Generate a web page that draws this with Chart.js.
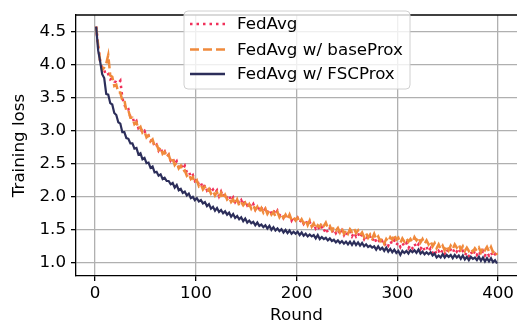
<!DOCTYPE html>
<html><head><meta charset="utf-8">
<script src="https://cdn.jsdelivr.net/npm/chart.js@4"></script>
<style>html,body{margin:0;padding:0;background:#fff;overflow:hidden}canvas{display:block}</style>
</head><body>
<canvas id="c" width="517" height="331"></canvas>
<script>
// Rounds sampled every 2 rounds (1,3,...,399)
const rounds = Array.from({length: 200}, (_, i) => 1 + 2 * i);
const xTicks = [0, 100, 200, 300, 400];
const yTicks = [1.0, 1.5, 2.0, 2.5, 3.0, 3.5, 4.0, 4.5];
const seriesNames = ["FedAvg", "FedAvg w/ baseProx", "FedAvg w/ FSCProx"];

const fedAvg = [
4.58,4.28,4.06,3.94,3.92,3.84,3.86,3.78,3.80,3.75,
3.74,3.72,3.76,3.50,3.40,3.32,3.33,3.21,3.21,3.12,
3.15,3.04,3.06,2.97,3.00,2.92,2.93,2.85,2.87,2.76,
2.79,2.70,2.75,2.66,2.69,2.61,2.64,2.55,2.59,2.50,
2.54,2.45,2.50,2.42,2.47,2.37,2.39,2.30,2.33,2.24,
2.27,2.18,2.21,2.13,2.18,2.10,2.15,2.07,2.11,2.06,
2.10,2.01,2.08,2.00,2.05,1.98,2.02,1.94,1.99,1.92,
1.97,1.90,1.95,1.88,1.94,1.87,1.91,1.84,1.89,1.81,
1.87,1.80,1.84,1.77,1.82,1.76,1.81,1.75,1.80,1.73,
1.79,1.72,1.75,1.68,1.73,1.66,1.71,1.64,1.70,1.63,
1.68,1.61,1.66,1.59,1.64,1.58,1.62,1.54,1.59,1.52,
1.56,1.49,1.54,1.47,1.53,1.46,1.53,1.46,1.51,1.45,
1.50,1.43,1.49,1.42,1.48,1.41,1.47,1.40,1.46,1.40,
1.45,1.38,1.43,1.36,1.42,1.35,1.40,1.33,1.39,1.32,
1.36,1.29,1.33,1.26,1.31,1.26,1.33,1.28,1.34,1.27,
1.31,1.24,1.30,1.25,1.30,1.22,1.27,1.22,1.29,1.23,
1.28,1.21,1.26,1.19,1.24,1.17,1.22,1.15,1.20,1.13,
1.18,1.13,1.20,1.14,1.21,1.15,1.20,1.15,1.22,1.17,
1.22,1.14,1.18,1.11,1.16,1.10,1.17,1.11,1.18,1.12,
1.18,1.11,1.18,1.11,1.16,1.11,1.16,1.09,1.13,1.06
];
const baseProx = [
4.58,4.30,4.05,3.92,3.96,4.02,4.15,3.84,3.82,3.68,
3.70,3.58,3.58,3.46,3.47,3.30,3.31,3.20,3.20,3.10,
3.13,3.03,3.06,2.97,2.99,2.90,2.93,2.84,2.87,2.77,
2.80,2.71,2.75,2.65,2.68,2.60,2.64,2.54,2.58,2.48,
2.52,2.43,2.47,2.38,2.40,2.32,2.35,2.27,2.30,2.21,
2.25,2.16,2.19,2.11,2.15,2.08,2.12,2.05,2.09,2.02,
2.07,1.99,2.06,1.97,2.03,1.96,1.99,1.92,1.96,1.89,
1.96,1.87,1.92,1.87,1.91,1.84,1.89,1.82,1.87,1.80,
1.85,1.78,1.83,1.76,1.82,1.74,1.79,1.73,1.77,1.70,
1.77,1.69,1.74,1.68,1.73,1.66,1.73,1.65,1.69,1.64,
1.68,1.61,1.66,1.60,1.65,1.57,1.64,1.55,1.60,1.52,
1.57,1.54,1.61,1.56,1.61,1.53,1.56,1.49,1.54,1.49,
1.53,1.46,1.52,1.44,1.49,1.44,1.51,1.47,1.52,1.45,
1.49,1.42,1.46,1.39,1.45,1.38,1.43,1.37,1.44,1.36,
1.40,1.33,1.37,1.29,1.36,1.32,1.39,1.35,1.43,1.35,
1.38,1.30,1.37,1.32,1.37,1.32,1.36,1.31,1.39,1.34,
1.39,1.31,1.36,1.29,1.34,1.28,1.33,1.25,1.30,1.22,
1.28,1.21,1.26,1.19,1.26,1.19,1.26,1.21,1.28,1.23,
1.28,1.20,1.25,1.18,1.23,1.18,1.22,1.17,1.22,1.18,
1.23,1.16,1.23,1.19,1.24,1.17,1.24,1.16,1.19,1.12
];
const fscProx = [
4.58,4.22,4.05,3.86,3.80,3.56,3.55,3.42,3.40,3.27,
3.24,3.13,3.11,2.98,2.98,2.89,2.88,2.81,2.81,2.73,
2.74,2.64,2.66,2.57,2.59,2.51,2.52,2.44,2.46,2.37,
2.38,2.32,2.34,2.27,2.29,2.24,2.24,2.19,2.21,2.14,
2.18,2.10,2.12,2.06,2.08,2.02,2.05,1.98,2.00,1.95,
1.98,1.93,1.95,1.90,1.92,1.86,1.89,1.82,1.85,1.79,
1.83,1.77,1.80,1.75,1.78,1.73,1.76,1.70,1.74,1.68,
1.71,1.66,1.69,1.63,1.67,1.61,1.64,1.60,1.62,1.57,
1.61,1.56,1.58,1.54,1.57,1.52,1.56,1.50,1.54,1.49,
1.52,1.48,1.51,1.46,1.50,1.45,1.49,1.44,1.47,1.44,
1.47,1.42,1.46,1.41,1.44,1.40,1.43,1.40,1.42,1.37,
1.42,1.36,1.39,1.36,1.38,1.34,1.37,1.33,1.35,1.31,
1.34,1.30,1.33,1.29,1.32,1.28,1.32,1.27,1.32,1.27,
1.31,1.26,1.30,1.25,1.28,1.24,1.26,1.23,1.25,1.20,
1.25,1.20,1.23,1.18,1.23,1.17,1.21,1.16,1.20,1.15,
1.18,1.12,1.18,1.15,1.18,1.14,1.19,1.16,1.19,1.15,
1.20,1.14,1.17,1.13,1.16,1.13,1.16,1.11,1.14,1.08,
1.11,1.08,1.13,1.08,1.12,1.09,1.12,1.07,1.12,1.08,
1.11,1.06,1.11,1.05,1.09,1.04,1.09,1.06,1.08,1.04,
1.09,1.03,1.08,1.02,1.07,1.02,1.07,1.01,1.04,0.99
];

const FONT = "'DejaVu Sans', sans-serif";
const FS = 16.7;
const toXY = vals => rounds.map((r, i) => ({x: r, y: vals[i]}));

const datasets = [
  {label: seriesNames[0], data: toXY(fedAvg), borderColor: '#f0305a', borderWidth: 2.5, borderDash: [2.5, 4], order: 3},
  {label: seriesNames[1], data: toXY(baseProx), borderColor: '#f08a3c', borderWidth: 2.5, borderDash: [9, 4], order: 2},
  {label: seriesNames[2], data: toXY(fscProx), borderColor: '#2c2e5a', borderWidth: 2.2, borderDash: [], order: 1}
];

const framePlugin = {
  id: 'frame',
  afterDatasetsDraw(chart) {
    const {ctx, chartArea: a} = chart;
    ctx.save();
    ctx.strokeStyle = '#000';
    ctx.lineWidth = 1.3;
    ctx.beginPath();
    ctx.moveTo(a.left, a.top); ctx.lineTo(a.right, a.top);
    ctx.stroke();
    ctx.restore();
  },
  afterDraw(chart) {
    const ctx = chart.ctx;
    ctx.save();
    const bx = 184, by = 11, bw = 226, bh = 78, r = 4;
    ctx.beginPath();
    ctx.moveTo(bx + r, by);
    ctx.arcTo(bx + bw, by, bx + bw, by + bh, r);
    ctx.arcTo(bx + bw, by + bh, bx, by + bh, r);
    ctx.arcTo(bx, by + bh, bx, by, r);
    ctx.arcTo(bx, by, bx + bw, by, r);
    ctx.closePath();
    ctx.fillStyle = 'rgba(255,255,255,0.8)';
    ctx.fill();
    ctx.strokeStyle = '#d0d0d0';
    ctx.lineWidth = 1;
    ctx.stroke();
    const rows = [24, 49.5, 74];
    chart.data.datasets.forEach((ds, i) => {
      const y = rows[i];
      ctx.beginPath();
      ctx.setLineDash(ds.borderDash);
      ctx.strokeStyle = ds.borderColor;
      ctx.lineWidth = 2.5;
      ctx.moveTo(190, y); ctx.lineTo(225, y);
      ctx.stroke();
      ctx.setLineDash([]);
      ctx.fillStyle = '#000';
      ctx.font = FS + 'px ' + FONT;
      ctx.textBaseline = 'middle';
      ctx.textAlign = 'left';
      ctx.fillText(ds.label, 237, y + 1);
    });
    ctx.restore();
  }
};

new Chart(document.getElementById('c'), {
  type: 'line',
  data: {datasets},
  options: {
    responsive: false,
    animation: false,
    devicePixelRatio: 1,
    layout: {padding: {top: 3, right: 0, left: 0, bottom: 0}},
    elements: {point: {radius: 0}, line: {tension: 0, fill: false, borderCapStyle: 'butt'}},
    plugins: {legend: {display: false}, tooltip: {enabled: false}},
    scales: {
      x: {
        type: 'linear', min: -19, max: 418.8,
        afterBuildTicks: s => { s.ticks = xTicks.map(v => ({value: v})); },
        afterFit: s => { s.height = 55; },
        grid: {color: '#b0b0b0', lineWidth: 1.3, tickColor: '#000', tickLength: 5, tickWidth: 1.3},
        border: {display: true, color: '#000', width: 1.3},
        ticks: {color: '#000', font: {family: FONT, size: FS}, padding: 3, maxRotation: 0},
        title: {display: true, text: 'Round', color: '#000', font: {family: FONT, size: FS}, padding: {top: 0, bottom: 5}}
      },
      y: {
        type: 'linear', min: 0.80, max: 4.756,
        afterBuildTicks: s => { s.ticks = yTicks.map(v => ({value: v})); },
        afterFit: s => { s.width = 76; },
        grid: {color: '#b0b0b0', lineWidth: 1.3, tickColor: '#000', tickLength: 5, tickWidth: 1.3},
        border: {display: true, color: '#000', width: 1.3},
        ticks: {color: '#000', font: {family: FONT, size: FS}, padding: 5, callback: v => v.toFixed(1)},
        title: {display: true, text: 'Training loss', color: '#000', font: {family: FONT, size: FS}, padding: {top: 10, bottom: 0}}
      }
    }
  },
  plugins: [framePlugin]
});
</script>
</body></html>
